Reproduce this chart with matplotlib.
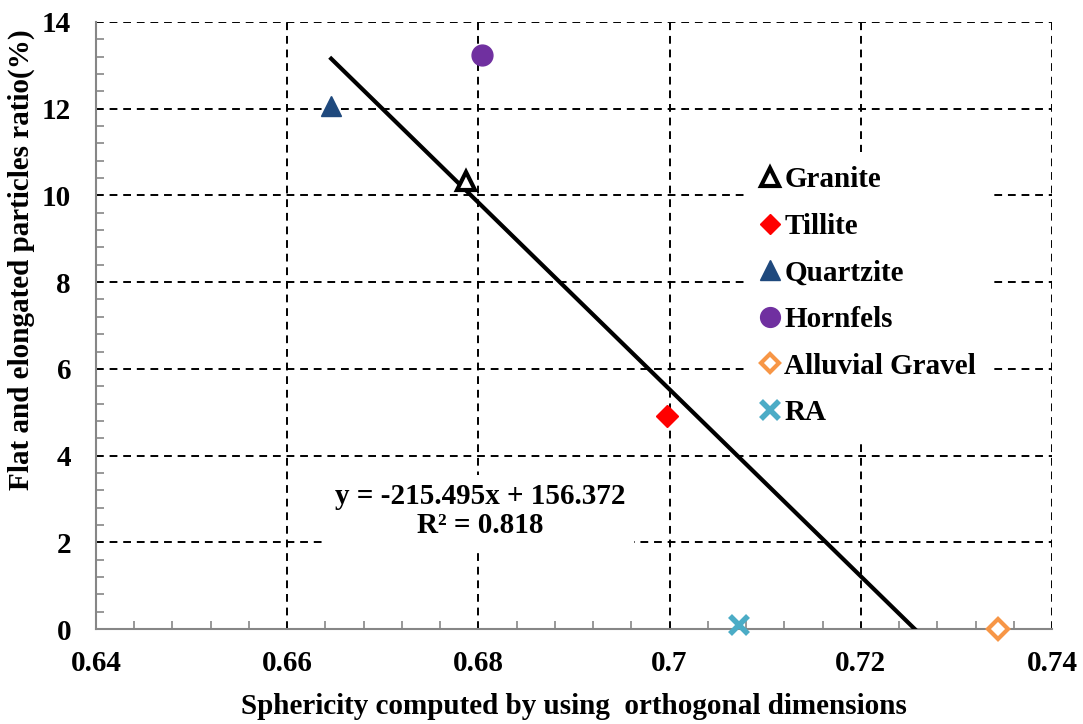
import numpy as np
import matplotlib
matplotlib.use("Agg")
import matplotlib.pyplot as plt
from matplotlib.ticker import MultipleLocator

plt.rcParams["font.family"] = ["Liberation Serif", "DejaVu Serif"]
plt.rcParams["font.weight"] = "bold"

names = ["Granite", "Tillite", "Quartzite", "Hornfels", "Alluvial Gravel", "RA"]
sphericity = [0.6787, 0.6997, 0.6646, 0.6804, 0.7343, 0.7073]
fe_ratio = [10.33, 4.91, 12.06, 13.24, 0.0, 0.09]
markers = ["^", "D", "^", "o", "D", "x"]
face = ["white", "#FF0000", "#1F497D", "#7030A0", "white", "#4BACC6"]
edge = ["black", "#FF0000", "#1F497D", "#7030A0", "#F79646", "#4BACC6"]
sizes = [13, 11, 15, 15, 10, 13]

slope, intercept = -215.495, 156.372
fit_x = [0.6646, -intercept / slope]

fig = plt.figure(figsize=(10.83, 7.24), dpi=100)
ax = fig.add_axes([96 / 1083, 1 - 629 / 724, 956 / 1083, 607 / 724])

ax.set_xlim(0.64, 0.74)
ax.set_ylim(0, 14)
ax.xaxis.set_major_locator(MultipleLocator(0.02))
ax.xaxis.set_minor_locator(MultipleLocator(0.004))
ax.yaxis.set_major_locator(MultipleLocator(2))
ax.yaxis.set_minor_locator(MultipleLocator(0.4))
ax.set_xticks([0.64, 0.66, 0.68, 0.70, 0.72, 0.74])
ax.set_xticklabels(["0.64", "0.66", "0.68", "0.7", "0.72", "0.74"])

ax.grid(True, which="major", color="black", linestyle=(0, (4, 3)), linewidth=1.4)
for side in ["top", "right"]:
    ax.spines[side].set_visible(False)
for side in ["left", "bottom"]:
    ax.spines[side].set_color("#868686")
    ax.spines[side].set_linewidth(1.5)
ax.tick_params(which="both", direction="in", color="#868686", width=1.2)
ax.tick_params(which="major", length=0, labelsize=21)
ax.tick_params(axis="x", which="major", pad=15)
ax.tick_params(axis="y", which="major", pad=18)
ax.tick_params(which="minor", length=6)
for lab in ax.get_xticklabels() + ax.get_yticklabels():
    lab.set_fontweight("bold")

fit_y = [slope * v + intercept for v in fit_x]
ax.plot(fit_x, fit_y, color="black", linewidth=3, zorder=3)

for i, n in enumerate(names):
    if markers[i] == "x":
        ax.plot(sphericity[i], fe_ratio[i], linestyle="none", marker="x",
                color=edge[i], markersize=sizes[i], markeredgewidth=4,
                label=n, zorder=4, clip_on=False)
    else:
        ax.plot(sphericity[i], fe_ratio[i], linestyle="none", marker=markers[i],
                markerfacecolor=face[i], markeredgecolor=edge[i],
                markersize=sizes[i], markeredgewidth=3 if face[i] == "white" else 1,
                label=n, zorder=4, clip_on=False)

leg = ax.legend(loc="upper left", bbox_to_anchor=(0.665, 0.81), frameon=True,
                fontsize=21, handlelength=0.6, handletextpad=0.2,
                labelspacing=0.67, borderpad=0.5, markerscale=0.95)
leg.get_frame().set_facecolor("white")
leg.get_frame().set_edgecolor("none")
leg.get_frame().set_alpha(1)
for t in leg.get_texts():
    t.set_fontweight("bold")

ax.text(0.6802, 2.72, "y = -215.495x + 156.372\nR² = 0.818", ha="center",
        va="center", fontsize=21, fontweight="bold", linespacing=1.1,
        bbox=dict(facecolor="white", edgecolor="none", pad=6), zorder=2)

ax.set_xlabel("Sphericity computed by using  orthogonal dimensions",
              fontsize=21, fontweight="bold", labelpad=12)
ax.set_ylabel("Flat and elongated particles ratio(%)",
              fontsize=21, fontweight="bold")
ax.yaxis.set_label_coords(-0.064, 0.608)

fig.savefig("out.png", dpi=100)
